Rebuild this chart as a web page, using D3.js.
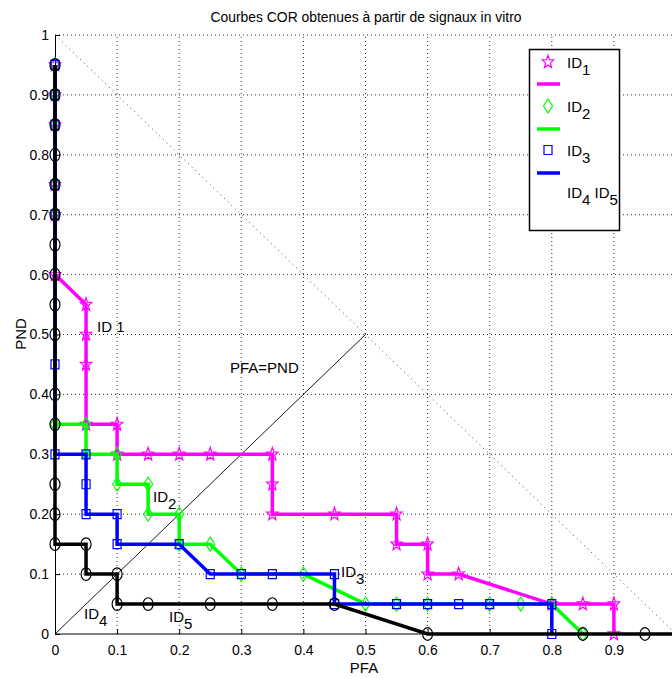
<!DOCTYPE html>
<html><head><meta charset="utf-8">
<script src="https://cdn.jsdelivr.net/npm/d3@7"></script>
<style>body{margin:0;background:#fff}svg{display:block;font-family:"Liberation Sans",Arial,Helvetica,sans-serif}</style>
</head><body>
<svg id="c" width="672" height="679"></svg>
<script>
// ---------- data ----------
const title = "Courbes COR obtenues à partir de signaux in vitro";
const xLabel = "PFA", yLabel = "PND";
const xTickVals = [0,0.1,0.2,0.3,0.4,0.5,0.6,0.7,0.8,0.9];
const xTickLabels = ["0","0.1","0.2","0.3","0.4","0.5","0.6","0.7","0.8","0.9"];
const yTickVals = [0,0.1,0.2,0.3,0.4,0.5,0.6,0.7,0.8,0.9,1];
const yTickLabels = ["0","0.1","0.2","0.3","0.4","0.5","0.6","0.7","0.8","0.9","1"];

// ID1 (magenta, stars)
const id1 = [[0,0.95],[0,0.9],[0,0.85],[0,0.75],[0,0.7],[0,0.6],[0.05,0.55],[0.05,0.5],[0.05,0.45],
  [0.05,0.35],[0.1,0.35],[0.1,0.3],[0.15,0.3],[0.2,0.3],[0.25,0.3],[0.35,0.3],[0.35,0.25],[0.35,0.2],
  [0.45,0.2],[0.55,0.2],[0.55,0.15],[0.6,0.15],[0.6,0.1],[0.65,0.1],[0.8,0.05],[0.85,0.05],[0.9,0.05],[0.9,0]];
// ID2 (green, diamonds)
const id2 = [[0,0.95],[0,0.9],[0,0.85],[0,0.75],[0,0.7],[0,0.35],[0.05,0.35],[0.05,0.3],[0.1,0.3],[0.1,0.25],
  [0.15,0.25],[0.15,0.2],[0.2,0.2],[0.2,0.15],[0.25,0.15],[0.3,0.1],[0.4,0.1],[0.5,0.05],[0.55,0.05],
  [0.6,0.05],[0.7,0.05],[0.75,0.05],[0.8,0.05],[0.85,0]];
// ID3 (blue, squares)
const id3 = [[0,0.95],[0,0.9],[0,0.85],[0,0.75],[0,0.7],[0,0.45],[0,0.3],[0.05,0.3],[0.05,0.25],[0.05,0.2],
  [0.1,0.2],[0.1,0.15],[0.2,0.15],[0.25,0.1],[0.3,0.1],[0.35,0.1],[0.45,0.1],[0.45,0.05],[0.55,0.05],
  [0.6,0.05],[0.65,0.05],[0.7,0.05],[0.8,0.05],[0.8,0]];
// ID4 / ID5 (black, circles)
const id45 = [[0,0.95],[0,0.9],[0,0.85],[0,0.8],[0,0.75],[0,0.7],[0,0.65],[0,0.6],[0,0.55],[0,0.5],[0,0.4],
  [0,0.35],[0,0.25],[0,0.2],[0,0.15],[0.05,0.15],[0.05,0.1],[0.1,0.1],[0.1,0.05],[0.15,0.05],[0.25,0.05],
  [0.35,0.05],[0.45,0.05],[0.6,0],[0.85,0],[0.95,0]];
const id45End = [1,0];     // line continues to right edge
const diagEq = [[0,0],[0.5,0.5]];    // PFA = PND
const diagRand = [[0,1],[1,0]];      // dotted chance line

// ---------- setup ----------
const svg = d3.select("#c");
const x = d3.scaleLinear().domain([0,1]).range([55,676]);
const y = d3.scaleLinear().domain([0,1]).range([634,35]);
const line = d3.line().x(d=>x(d[0])).y(d=>y(d[1]));

// grid
const g = svg.append("g");
g.selectAll(".gx").data(xTickVals.slice(1)).join("line")
  .attr("x1",d=>x(d)).attr("x2",d=>x(d)).attr("y1",y(0)).attr("y2",y(1))
  .attr("stroke","#333").attr("stroke-width",1).attr("stroke-dasharray","1,3");
g.selectAll(".gy").data(yTickVals.slice(1)).join("line")
  .attr("x1",x(0)).attr("x2",x(1)).attr("y1",d=>y(d)).attr("y2",d=>y(d))
  .attr("stroke","#333").attr("stroke-width",1).attr("stroke-dasharray","1,3");

// diagonals
svg.append("path").attr("d",line(diagRand)).attr("fill","none")
  .attr("stroke","#444").attr("stroke-width",1).attr("stroke-dasharray","1,4");
svg.append("path").attr("d",line(diagEq)).attr("fill","none")
  .attr("stroke","#000").attr("stroke-width",0.9);

// axes
const xAxis = d3.axisBottom(x).tickValues(xTickVals).tickFormat((d,i)=>xTickLabels[i]).tickSizeInner(-5).tickSizeOuter(0).tickPadding(8);
const yAxis = d3.axisLeft(y).tickValues(yTickVals).tickFormat((d,i)=>yTickLabels[i]).tickSizeInner(-5).tickSizeOuter(0).tickPadding(6);
const gx = svg.append("g").attr("transform",`translate(0,${y(0)})`).call(xAxis);
const gy = svg.append("g").attr("transform",`translate(${x(0)},0)`).call(yAxis);
gx.select(".domain").attr("d",`M${x(0)},0H${x(1)}`);
[gx,gy].forEach(a=>{
  a.select(".domain").attr("stroke","#000").attr("stroke-width",1);
  a.selectAll(".tick line").attr("stroke","#000");
  a.selectAll(".tick text").attr("fill","#000").attr("font-size",14).attr("font-family","Liberation Sans, Arial, sans-serif");
});
gx.selectAll(".tick text").attr("dy","0.95em");

// markers
function starPath(r){
  const pts=[];
  for(let i=0;i<10;i++){
    const a=-Math.PI/2+i*Math.PI/5, rr=i%2===0?r:r*0.42;
    pts.push([rr*Math.cos(a), rr*Math.sin(a)*1.15]);
  }
  return "M"+pts.map(p=>p.join(",")).join("L")+"Z";
}
const markerPaths = {
  star: starPath(6),
  diamond: "M0,-7L4.5,0L0,7L-4.5,0Z",
  square: "M-4,-4.5H4V4.5H-4Z",
  circle: "M-5,0A5,6.3 0 1,0 5,0A5,6.3 0 1,0 -5,0Z"
};

function series(data, color, marker, lineData){
  svg.append("path").attr("d",line(lineData||data)).attr("fill","none")
    .attr("stroke",color).attr("stroke-width",3.5).attr("stroke-linejoin","miter");
  svg.append("g").selectAll("path").data(data).join("path")
    .attr("transform",d=>`translate(${x(d[0])},${y(d[1])})`)
    .attr("d",markerPaths[marker]).attr("fill","none").attr("stroke",color).attr("stroke-width",1.2);
}
series(id1,"#ff00ff","star");
series(id2,"#00ff00","diamond");
series(id3,"#0000ff","square");
series(id45,"#000000","circle",[...id45,id45End]);

// annotations
function subText(px,py,base,sub,size){
  const t=svg.append("text").attr("x",px).attr("y",py).attr("font-size",size).attr("fill","#000");
  t.append("tspan").text(base);
  if(sub) t.append("tspan").attr("dy",size*0.45).attr("font-size",size).text(sub);
  return t;
}
subText(97,332,"ID 1","",15);
subText(230,373,"PFA=PND","",15);
subText(153,502,"ID","2",15);
subText(341,577,"ID","3",15);
subText(84,619,"ID","4",15);
subText(169,622,"ID","5",15);

// title and labels
const tt = svg.append("text").attr("x",366).attr("y",22).attr("text-anchor","middle")
  .attr("font-size",14).attr("fill","#000").text(title);
tt.attr("textLength",311).attr("lengthAdjust","spacingAndGlyphs");
svg.append("text").attr("x",364).attr("y",673).attr("text-anchor","middle").attr("font-size",15).text(xLabel);
svg.append("text").attr("transform","translate(26,334) rotate(-90)").attr("text-anchor","middle").attr("font-size",15).text(yLabel);

// legend
const lg = svg.append("g");
lg.append("rect").attr("x",529.5).attr("y",49.5).attr("width",90).attr("height",181)
  .attr("fill","#fff").attr("stroke","#000").attr("stroke-width",1.5);
const legendItems = [
  {color:"#ff00ff",marker:"star",sub:"1",my:62,ly:84},
  {color:"#00ff00",marker:"diamond",sub:"2",my:106,ly:129},
  {color:"#0000ff",marker:"square",sub:"3",my:150,ly:173}
];
legendItems.forEach(it=>{
  lg.append("path").attr("transform",`translate(548,${it.my})`).attr("d",markerPaths[it.marker])
    .attr("fill","none").attr("stroke",it.color).attr("stroke-width",1.2);
  lg.append("line").attr("x1",537).attr("x2",560).attr("y1",it.ly).attr("y2",it.ly)
    .attr("stroke",it.color).attr("stroke-width",3.5);
  const t=lg.append("text").attr("x",567).attr("y",it.my+6).attr("font-size",15);
  t.append("tspan").text("ID");
  t.append("tspan").attr("dy",7).text(it.sub);
});
const t45=lg.append("text").attr("x",567).attr("y",198).attr("font-size",15);
t45.append("tspan").text("ID");
t45.append("tspan").attr("dy",7).text("4");
t45.append("tspan").attr("dy",-7).text(" ID");
t45.append("tspan").attr("dy",7).text("5");
</script>
</body></html>
